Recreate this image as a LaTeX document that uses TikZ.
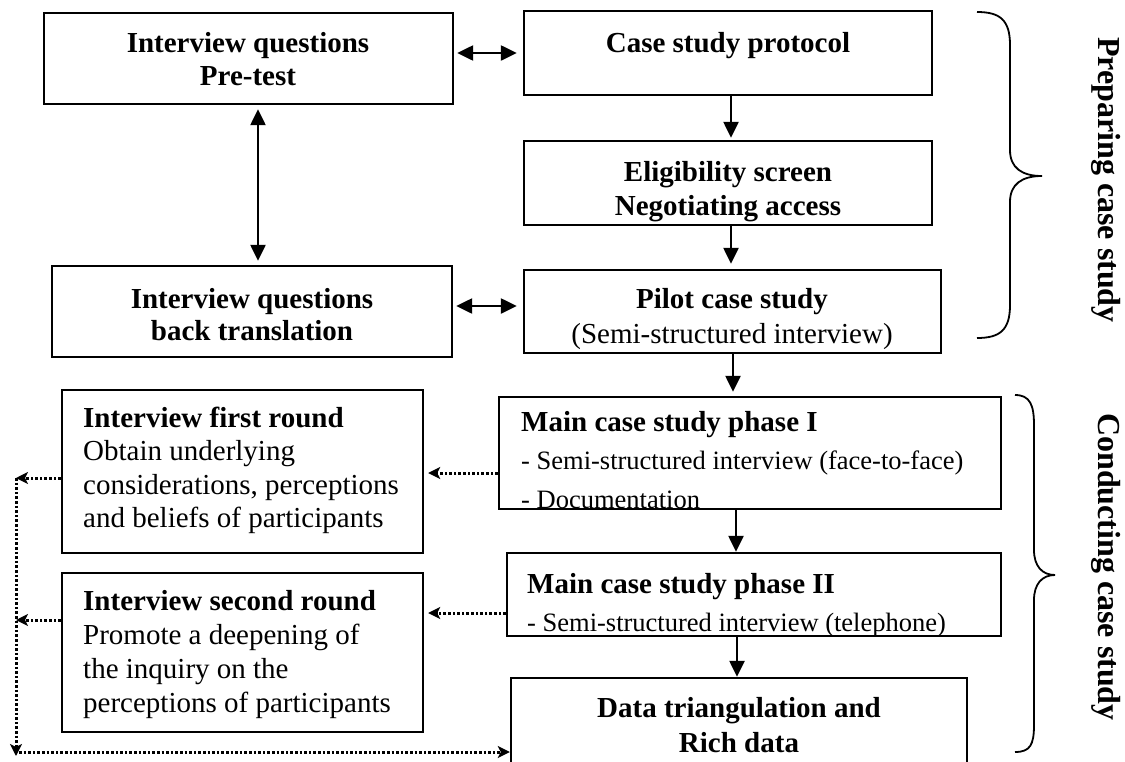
\documentclass[tikz,border=0pt]{standalone}
\usepackage{fontspec}
\setmainfont{Liberation Serif}
\usetikzlibrary{arrows.meta,fit}
\begin{document}
\begin{tikzpicture}[x=1pt,y=-1pt,
  box/.style={draw, line width=2.4pt, inner sep=0pt, rectangle},
  hd/.style={inner sep=0pt, font=\fontsize{29}{34}\selectfont\bfseries},
  tx/.style={inner sep=0pt, font=\fontsize{29}{34}\selectfont},
  sm/.style={inner sep=0pt, font=\fontsize{26.5}{31}\selectfont},
  lab/.style={inner sep=0pt, font=\fontsize{32}{36}\selectfont\bfseries, rotate=-90},
  flow/.style={line width=2.4pt, -{Triangle[length=16pt,width=15pt]}},
  both/.style={line width=2.4pt, {Triangle[length=16pt,width=15pt]}-{Triangle[length=16pt,width=15pt]}},
  link/.style={line width=3pt, dash pattern=on 2.6pt off 2pt, -{Stealth[length=12pt,width=12pt,inset=3pt]}},
  brace/.style={line width=1.8pt}]
\useasboundingbox (0,0) rectangle (1125,761);

% boxes
\node[box, fit={(44,13)(453,104)}] (A) {};
\node[box, fit={(524,11)(932,95)}] (B) {};
\node[box, fit={(524,141)(932,225)}] (C) {};
\node[box, fit={(52,266)(452,357)}] (D) {};
\node[box, fit={(524,270)(941,353)}] (E) {};
\node[box, fit={(62,390)(423,553)}] (F) {};
\node[box, fit={(62,573)(423,732)}] (G) {};
\node[box, fit={(499,397)(1001,509)}] (H) {};
\node[box, fit={(507,553)(1001,636)}] (I) {};
\node[box, fit={(511,678)(967,780)}] (J) {};

% texts
\node[hd, anchor=base] (a1) at (248,52) {Interview questions};
\node[hd, anchor=base] (a2) at (248,85) {Pre-test};
\node[hd, anchor=base] (b1) at (728,52) {Case study protocol};
\node[hd, anchor=base] (c1) at (728,181) {Eligibility screen};
\begin{scope}
  \clip (C.north west) rectangle (C.south east);
  \node[hd, anchor=base] (c2) at (728,215) {Negotiating access};
\end{scope}
\node[hd, anchor=base] (d1) at (252,308) {Interview questions};
\node[hd, anchor=base] (d2) at (252,340) {back translation};
\node[hd, anchor=base] (e1) at (732,308) {Pilot case study};
\begin{scope}
  \clip (E.north west) rectangle (E.south east);
  \node[tx, anchor=base] (e2) at (732,343) {(Semi-structured interview)};
\end{scope}

\node[hd, anchor=base west] (f1) at (83,427) {Interview first round};
\node[tx, anchor=base west] (f2) at (83,460) {Obtain underlying};
\node[tx, anchor=base west] (f3) at (83,494) {considerations, perceptions};
\node[tx, anchor=base west] (f4) at (83,527) {and beliefs of participants};

\node[hd, anchor=base west] (g1) at (83,610) {Interview second round};
\node[tx, anchor=base west] (g2) at (83,644) {Promote a deepening of};
\node[tx, anchor=base west] (g3) at (83,678) {the inquiry on the};
\node[tx, anchor=base west] (g4) at (83,712) {perceptions of participants};

\begin{scope}
  \clip (H.north west) rectangle (H.south east);
  \node[hd, anchor=base west] (h1) at (521,431) {Main case study phase I};
  \node[sm, anchor=base west] (h2) at (521,469) {- Semi-structured interview (face-to-face)};
  \node[sm, anchor=base west] (h3) at (521,508) {- Documentation};
\end{scope}
\begin{scope}
  \clip (I.north west) rectangle (I.south east);
  \node[hd, anchor=base west] (i1) at (527,593) {Main case study phase II};
  \node[sm, anchor=base west] (i2) at (527,631) {- Semi-structured interview (telephone)};
\end{scope}
\node[hd, anchor=base] (j1) at (739,717) {Data triangulation and};
\node[hd, anchor=base] (j2) at (739,752) {Rich data};

% helper rows and columns
\coordinate (rAB) at (0,53);
\coordinate (rDE) at (0,306);
\coordinate (rH) at (0,473);
\coordinate (rI) at (0,613);
\coordinate (rF) at (0,478);
\coordinate (rG) at (0,620);
\coordinate (rBot) at (0,752);
\coordinate (cAD) at (258,0);
\coordinate (cBC) at (731,0);
\coordinate (cEH) at (733,0);
\coordinate (cHI) at (736,0);
\coordinate (cIJ) at (737,0);
\coordinate (cL) at (16,0);
\coordinate (vtop) at (16,478);
\coordinate (vbot) at (16,756);
\coordinate (hstart) at (19,752);

% solid connectors
\draw[both, shorten <=3pt, shorten >=6pt] (A.east |- rAB) -- (B.west |- rAB);
\draw[both, shorten <=3pt, shorten >=6pt] (D.east |- rDE) -- (E.west |- rDE);
\draw[both, shorten <=4pt, shorten >=4pt] (A.south -| cAD) -- (D.north -| cAD);
\draw[flow, shorten >=2pt] (B.south -| cBC) -- (C.north -| cBC);
\draw[flow, shorten >=5pt] (C.south -| cBC) -- (E.north -| cBC);
\draw[flow, shorten >=4pt] (E.south -| cEH) -- (H.north -| cEH);
\draw[flow] (H.south -| cHI) -- (I.north -| cHI);
\draw[flow] (I.south -| cIJ) -- (J.north -| cIJ);

% dotted feedback connectors
\draw[link, shorten >=4pt] (H.west |- rH) -- (F.east |- rH);
\draw[link, shorten >=4pt] (I.west |- rI) -- (G.east |- rI);
\draw[link] (F.west |- rF) -- (vtop);
\draw[link] (G.west |- rG) -- (cL |- rG);
\draw[link] (vtop) -- (vbot);
\draw[link] (hstart) -- (J.west |- rBot);

% braces and phase labels
\draw[brace] (977,12) .. controls (1000,12) and (1010,20) .. (1010,45)
  -- (1010,150) .. controls (1010,168) and (1022,176) .. (1042,176)
  .. controls (1022,176) and (1010,184) .. (1010,202)
  -- (1010,305) .. controls (1010,330) and (1000,338) .. (977,338);
\draw[brace] (1015,395) .. controls (1030,395) and (1034,405) .. (1034,425)
  -- (1034,550) .. controls (1034,566) and (1042,575) .. (1055,575)
  .. controls (1042,575) and (1034,584) .. (1034,600)
  -- (1034,725) .. controls (1034,745) and (1030,752) .. (1015,752);
\node[lab] (prep) at (1106,180) {Preparing case study};
\node[lab] (cond) at (1106,567) {Conducting case study};
\end{tikzpicture}
\end{document}
